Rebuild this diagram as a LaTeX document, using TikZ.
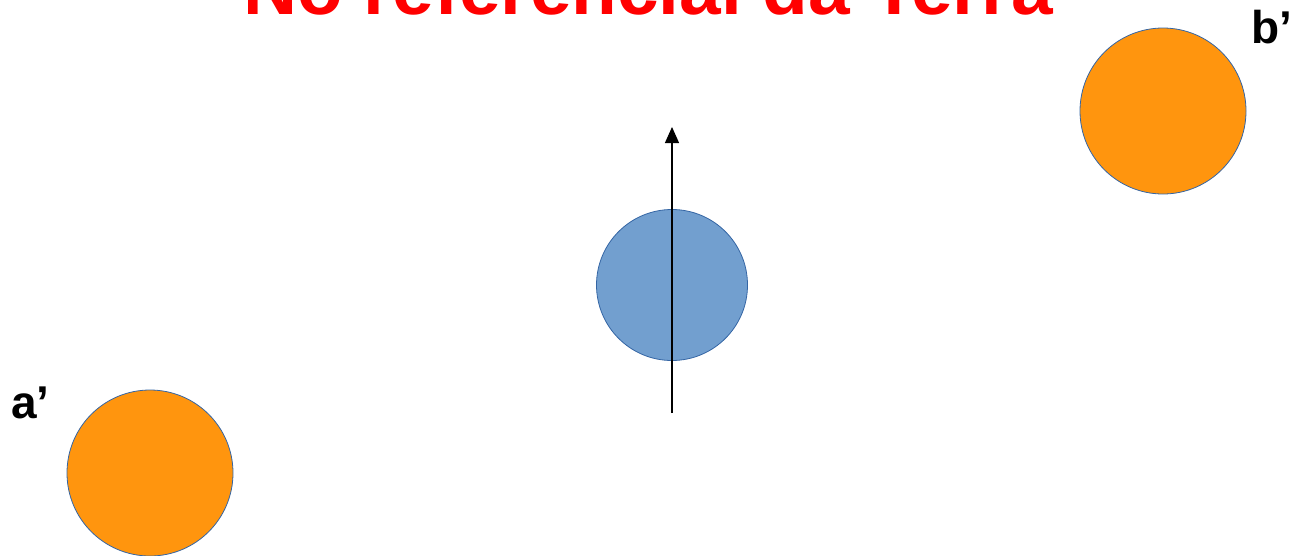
\documentclass[tikz,border=0pt]{standalone}
\usepackage{fontspec}
\setmainfont{Liberation Sans}
\usetikzlibrary{arrows.meta}
\definecolor{orng}{HTML}{FF950E}
\definecolor{bluefill}{HTML}{729FCF}
\definecolor{edgeblue}{HTML}{3465A4}
\begin{document}
\begin{tikzpicture}[x=1pt,y=1pt,
  ball/.style={circle,draw=edgeblue,line width=0.8pt,inner sep=0pt},
  lbl/.style={font=\fontsize{46}{50}\selectfont\bfseries,inner sep=0pt,anchor=base west}]
\useasboundingbox (0,0) rectangle (1293,-555);
\node[ball,fill=orng,minimum size=166pt] (b) at (1163,-111) {};
\node[ball,fill=orng,minimum size=166pt] (a) at (150,-473) {};
\node[ball,fill=bluefill,minimum size=151pt] (e) at (672,-285) {};
\coordinate (s) at (672,-413);
\coordinate (t) at (672,-127);
\draw[line width=1.2pt,-{Triangle[width=14pt,length=16pt]}] (s) -- (t);
\node[lbl] (bl) at (1251,-43) {b’};
\node[lbl] (al) at (11,-418) {a’};
\node[font=\fontsize{74.8}{80}\selectfont\bfseries,text=red,inner sep=0pt,anchor=base] (title) at (648,-14) {No referencial da Terra};
\end{tikzpicture}
\end{document}
